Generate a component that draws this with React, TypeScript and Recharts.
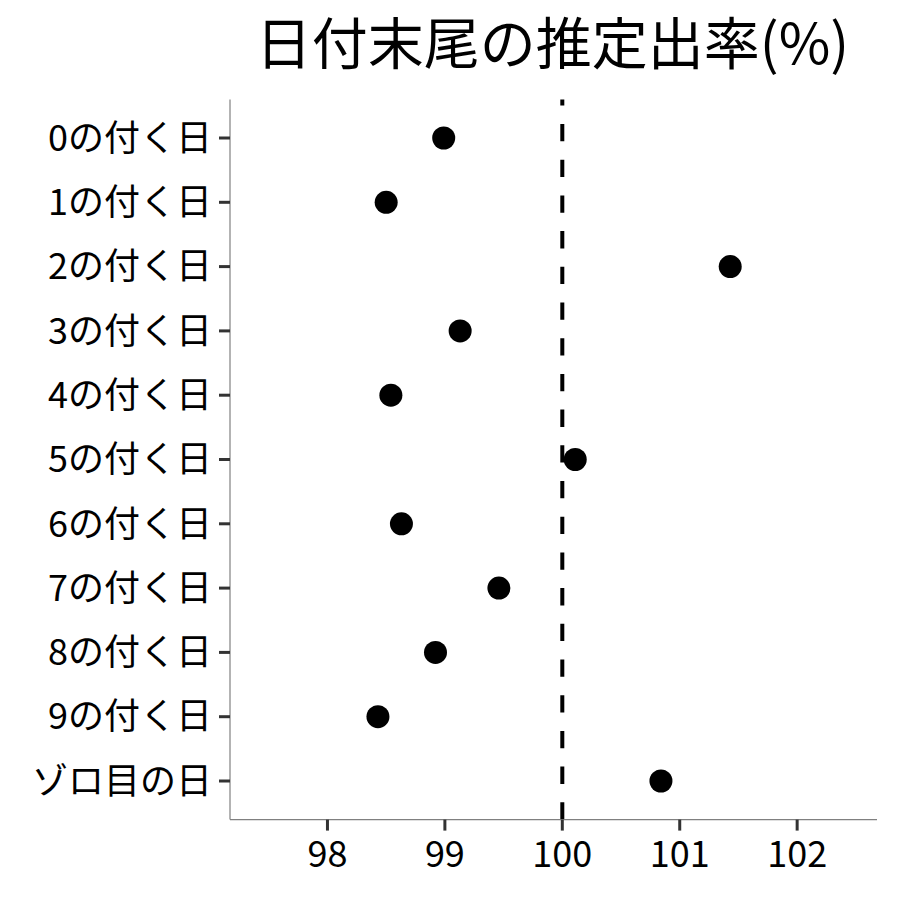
import React from 'react';
import { ScatterChart, Scatter, XAxis, YAxis, ReferenceLine } from 'recharts';

const categories = [
  '0の付く日', '1の付く日', '2の付く日', '3の付く日', '4の付く日',
  '5の付く日', '6の付く日', '7の付く日', '8の付く日', '9の付く日', 'ゾロ目の日',
];
const rates = [98.99, 98.5, 101.43, 99.13, 98.54, 100.11, 98.63, 99.46, 98.92, 98.43, 100.84];
const xTicks = [98, 99, 100, 101, 102];
const xDomain: [number, number] = [97.17, 102.68];
const referenceRate = 100;
const title = '日付末尾の推定出率(%)';

const data = categories.map((label, i) => ({ label, rate: rates[i] }));

const FONT = '"Noto Sans CJK JP", "Noto Sans", sans-serif';

const Dot = (props: any) => <circle cx={props.cx} cy={props.cy} r={11.5} fill="#000" />;

export default function App() {
  return (
    <div style={{ position: 'absolute', left: 0, top: 0, width: 900, height: 900, background: '#fff' }}>
      <svg width={900} height={120} style={{ position: 'absolute', left: 0, top: 0 }}>
        <text x={552.5} y={64} textAnchor="middle" fontFamily={FONT} fontSize={56} fill="#000">
          {title}
        </text>
      </svg>
      <div style={{ position: 'absolute', left: 0, top: 0 }}>
        <ScatterChart
          width={900}
          height={900}
          margin={{ top: 99.4, right: 23, bottom: 20.4, left: 0 }}
          style={{ fontFamily: FONT }}
        >
          <XAxis
            type="number"
            dataKey="rate"
            domain={xDomain}
            allowDataOverflow
            ticks={xTicks}
            height={60}
            tickSize={11}
            tickMargin={11}
            axisLine={{ stroke: '#808080', strokeWidth: 1.2 }}
            tickLine={{ stroke: '#333', strokeWidth: 3 }}
            tick={{ fill: '#000', fontSize: 36, fontFamily: FONT }}
          />
          <YAxis
            type="category"
            dataKey="label"
            reversed
            interval={0}
            width={230}
            padding={{ top: 6.45, bottom: 6.45 }}
            tickSize={11}
            tickMargin={7}
            axisLine={{ stroke: '#808080', strokeWidth: 1.2 }}
            tickLine={{ stroke: '#333', strokeWidth: 3 }}
            tick={{ fill: '#000', fontSize: 36, fontFamily: FONT }}
          />
          <ReferenceLine
            x={referenceRate}
            stroke="#000"
            strokeWidth={4}
            strokeDasharray="17.3 18.4"
          />
          <Scatter data={data} fill="#000" shape={Dot} isAnimationActive={false} />
        </ScatterChart>
      </div>
    </div>
  );
}
